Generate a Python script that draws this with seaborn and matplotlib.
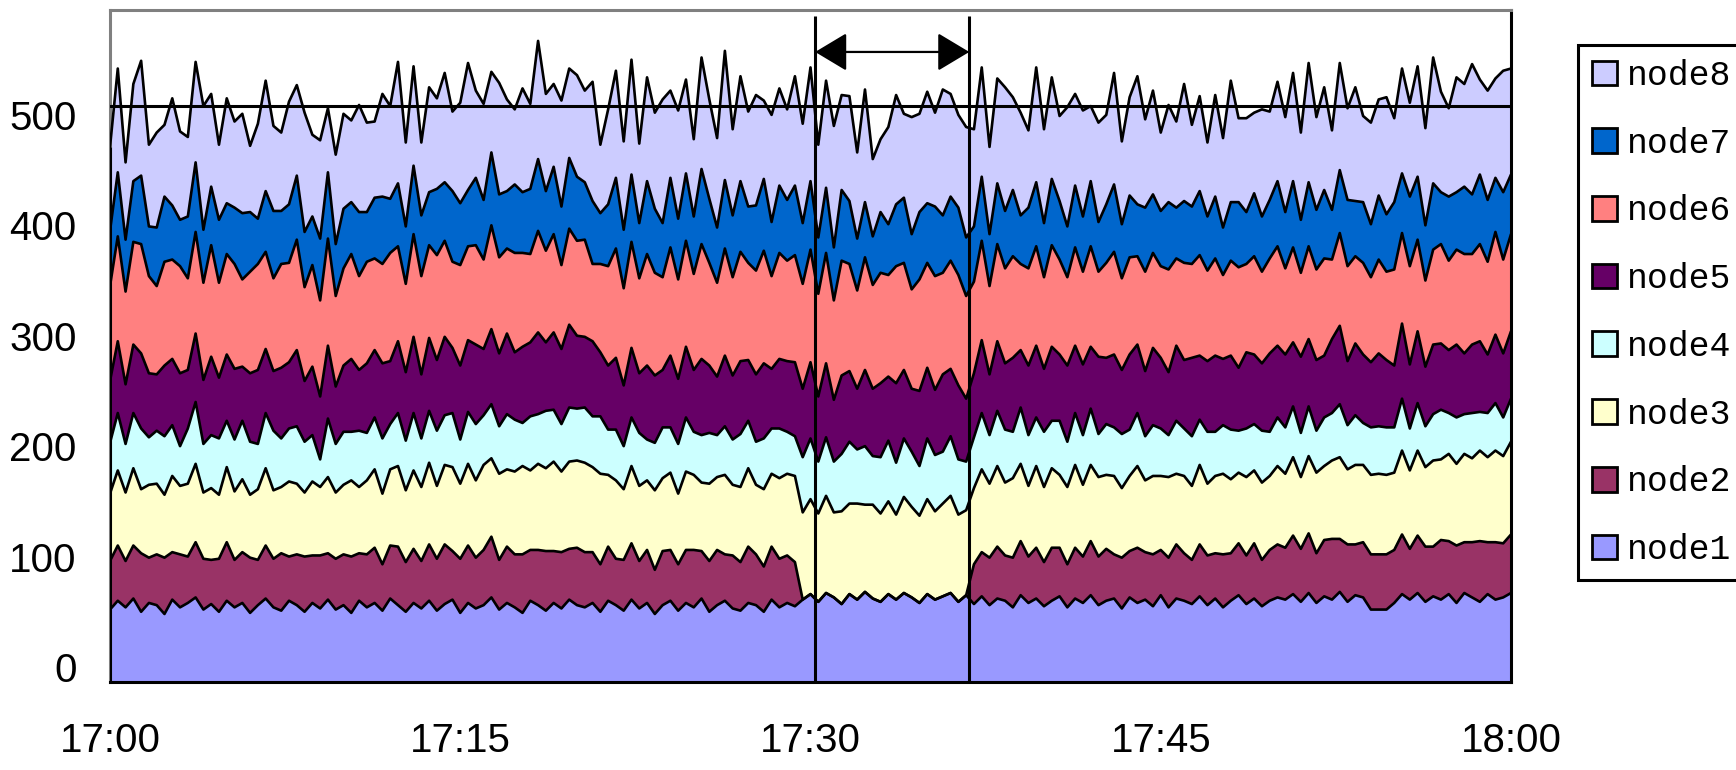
import numpy as np
import pandas as pd
import matplotlib
matplotlib.use("Agg")
import matplotlib.pyplot as plt
from matplotlib.patches import Patch
import seaborn as sns

# one sample every 20 s, 17:00 -> 18:00 (181 samples), stacked bottom to top
node1 = [52, 60, 54, 62, 50, 58, 56, 48, 61, 54, 58, 63, 52, 57, 50, 60, 54, 58, 49, 56, 62, 54, 51, 60, 56, 50, 58, 53, 61, 52,
         56, 49, 60, 54, 58, 51, 62, 56, 50, 58, 53, 60, 51, 57, 61, 49, 58, 53, 56, 63, 52, 58, 54, 49, 60, 56, 51, 58, 53, 61, 56,
         54, 58, 50, 60, 56, 51, 61, 53, 58, 48, 56, 60, 51, 58, 54, 62, 50, 56, 60, 53, 51, 58, 56, 50, 61, 54, 58, 55,
         61, 66, 59, 67, 63, 57, 66, 61, 68, 62, 59, 66, 61, 67, 63, 58, 66, 61, 64, 67, 59, 65,
         57, 64, 56, 62, 60, 54, 65, 58, 62, 55, 60, 64, 54, 62, 58, 65, 56, 60, 62, 53, 63, 58, 61, 55, 65, 54, 62, 60, 57, 64,
         56, 62, 54, 60, 65, 57, 62, 55, 60, 63,
         61, 66, 59, 67, 58, 64, 61, 68, 59, 65, 63, 52, 52, 52, 58, 66, 61, 67, 59, 64, 61, 66, 58, 67, 63, 59, 66, 61, 63, 67]
node2 = [44, 50, 42, 48, 53, 41, 46, 51, 43, 48, 42, 50, 46, 40, 48, 53, 43, 46, 50, 41, 48, 44, 52, 40, 46, 50, 43, 48, 42, 46,
         46, 51, 43, 48, 50, 42, 48, 53, 45, 49, 43, 51, 47, 54, 44, 49, 52, 46, 50, 55, 45, 51, 48, 53, 46, 50, 54, 47, 51, 46, 52,
         50, 46, 43, 49, 42, 46, 51, 43, 48, 40, 49, 46, 42, 48, 52, 43, 46, 50, 42, 48, 44, 51, 46, 41, 48, 44, 43, 40,
         0, 0, 0, 0, 0, 0, 0, 0, 0, 0, 0, 0, 0, 0, 0, 0, 0, 0, 0, 0, 0, 0,
         36, 40, 43, 47, 41, 45, 49, 42, 46, 40, 48, 44, 39, 46, 42, 49, 44, 47, 40, 46, 42, 50, 43, 47, 41, 45, 49, 43, 40, 47,
         45, 41, 48, 43, 47, 44, 50, 42, 46, 48,
         47, 53, 48, 54, 45, 51, 55, 48, 52, 46, 50, 50, 50, 50, 48, 54, 46, 52, 50, 45, 54, 48, 52, 46, 50, 55, 47, 52, 49, 53]
node3 = [61, 68, 62, 70, 58, 66, 64, 57, 69, 62, 66, 71, 60, 65, 58, 68, 62, 66, 57, 64, 70, 62, 60, 68, 64, 58, 67, 62, 69, 60,
         63, 69, 60, 67, 71, 64, 69, 73, 65, 71, 67, 74, 66, 72, 76, 68, 74, 70, 77, 71, 78, 70, 75, 80, 72, 78, 75, 81, 73, 79, 79,
         81, 77, 82, 65, 71, 64, 70, 68, 63, 72, 66, 70, 64, 71, 68, 62, 70, 66, 72, 64, 68, 71, 63, 70, 66, 73, 74, 78,
         79, 86, 80, 88, 77, 84, 82, 87, 79, 85, 80, 84, 77, 87, 82, 79, 86, 80, 84, 88, 79, 77,
         69, 75, 67, 73, 66, 72, 70, 64, 74, 68, 72, 66, 70, 75, 65, 69, 72, 67, 71, 63, 68, 74, 65, 71, 67, 73, 64, 70, 67, 72,
         65, 70, 73, 67, 64, 71, 66, 70, 67, 71,
         67, 71, 65, 70, 73, 67, 71, 74, 68, 72, 70, 72, 73, 72, 70, 76, 71, 77, 72, 78, 73, 79, 74, 80, 76, 82, 77, 83, 79, 84]
node4 = [46, 52, 44, 50, 55, 43, 48, 53, 46, 36, 50, 56, 44, 48, 51, 42, 47, 53, 48, 41, 50, 54, 44, 48, 52, 46, 42, 25, 53, 44,
         48, 44, 51, 43, 47, 50, 41, 48, 45, 52, 44, 47, 50, 45, 49, 40, 47, 51, 45, 49, 43, 50, 47, 39, 49, 45, 52, 47, 43, 49, 47,
         50, 46, 52, 41, 46, 39, 44, 48, 37, 43, 46, 41, 45, 49, 39, 43, 46, 38, 44, 41, 48, 43, 39, 46, 41, 45, 38, 36,
         50, 55, 47, 53, 46, 52, 56, 49, 53, 44, 51, 55, 47, 53, 50, 45, 55, 51, 47, 54, 50, 44,
         46, 51, 44, 50, 48, 42, 51, 46, 44, 50, 43, 49, 41, 47, 45, 51, 39, 46, 44, 49, 42, 48, 40, 46, 43, 38, 48, 43, 45, 41,
         47, 40, 44, 45, 38, 44, 42, 47, 40, 44,
         42, 46, 40, 45, 38, 44, 43, 48, 40, 45, 38, 43, 43, 43, 41, 47, 38, 43, 37, 42, 45, 37, 42, 36, 41, 35, 40, 43, 35, 39]
node5 = [56, 65, 54, 62, 68, 58, 51, 64, 60, 66, 53, 62, 58, 71, 55, 60, 64, 49, 62, 67, 58, 54, 64, 60, 69, 55, 62, 57, 66, 52,
         60, 66, 55, 63, 61, 68, 57, 65, 62, 69, 58, 66, 64, 71, 59, 67, 65, 72, 60, 68, 66, 73, 61, 69, 67, 74, 62, 70, 68, 75, 66,
         64, 68, 58, 58, 65, 55, 63, 54, 67, 61, 52, 65, 59, 64, 56, 69, 61, 53, 64, 58, 66, 55, 61, 68, 54, 63, 64, 67,
         62, 69, 59, 67, 56, 71, 64, 55, 69, 61, 67, 58, 72, 62, 57, 68, 64, 59, 70, 61, 67, 57,
         58, 66, 55, 63, 60, 67, 52, 63, 65, 57, 67, 60, 69, 61, 64, 56, 70, 60, 66, 58, 68, 62, 59, 70, 64, 57, 68, 62, 71, 58,
         64, 69, 60, 67, 57, 69, 63, 61, 71, 65,
         66, 58, 69, 61, 64, 56, 67, 71, 58, 65, 62, 59, 66, 61, 56, 68, 58, 65, 54, 63, 60, 57, 66, 55, 62, 64, 53, 62, 58, 61]
node6 = [86, 95, 84, 93, 99, 88, 80, 94, 90, 97, 83, 92, 88, 101, 86, 91, 95, 79, 92, 96, 88, 84, 94, 90, 100, 85, 92, 87, 97, 82,
         88, 95, 85, 92, 83, 90, 98, 86, 80, 93, 89, 84, 95, 87, 78, 91, 85, 90, 81, 94, 87, 77, 90, 85, 80, 92, 83, 89, 76, 87, 86,
         88, 70, 80, 90, 99, 88, 96, 86, 101, 93, 84, 98, 90, 96, 87, 104, 93, 85, 97, 89, 99, 88, 94, 102, 84, 96, 91, 97,
         95, 102, 93, 100, 90, 104, 97, 89, 102, 94, 100, 92, 106, 97, 90, 101, 95, 103, 92, 98, 100, 93,
         83, 90, 80, 88, 86, 92, 78, 88, 90, 83, 92, 86, 80, 89, 84, 91, 77, 86, 93, 83, 88, 80, 90, 86, 83, 93, 79, 88, 85, 91,
         82, 88, 76, 86, 91, 80, 89, 83, 86, 90,
         78, 86, 76, 84, 82, 88, 72, 84, 86, 79, 83, 77, 85, 80, 87, 82, 89, 83, 78, 86, 90, 81, 86, 90, 82, 88, 84, 93, 85, 88]
node7 = [50, 58, 47, 55, 62, 45, 53, 59, 49, 42, 56, 63, 48, 53, 57, 46, 51, 60, 54, 41, 55, 61, 48, 53, 58, 50, 44, 56, 60, 47,
         54, 47, 58, 45, 55, 61, 49, 57, 52, 62, 55, 48, 60, 53, 64, 56, 51, 61, 54, 66, 57, 52, 62, 55, 59, 65, 54, 61, 53, 64, 58,
         52, 57, 46, 56, 64, 53, 61, 50, 66, 58, 49, 63, 55, 61, 52, 68, 58, 50, 62, 56, 64, 51, 59, 65, 49, 61, 55, 63,
         55, 62, 51, 59, 48, 64, 57, 47, 50, 44, 55, 46, 56, 59, 50, 61, 54, 63, 52, 58, 61, 53,
         50, 58, 47, 55, 52, 60, 44, 55, 58, 49, 60, 53, 46, 56, 50, 59, 45, 53, 61, 49, 56, 47, 58, 53, 50, 61, 46, 56, 52, 58,
         49, 56, 43, 53, 59, 47, 57, 50, 53, 59,
         51, 60, 48, 58, 54, 62, 45, 57, 60, 50, 55, 48, 58, 52, 61, 54, 63, 57, 50, 60, 47, 58, 52, 61, 54, 63, 56, 49, 61, 54]
node8 = [76, 94, 70, 88, 104, 74, 86, 65, 97, 80, 72, 91, 112, 84, 68, 95, 78, 90, 60, 86, 100, 77, 71, 93, 82, 108, 74, 89, 58, 81,
         86, 74, 97, 81, 69, 93, 84, 110, 76, 90, 66, 95, 82, 99, 72, 91, 115, 79, 87, 73, 101, 83, 68, 94, 77, 107, 88, 75, 96, 81, 92,
         83, 108, 62, 86, 97, 80, 104, 72, 94, 87, 112, 79, 98, 85, 70, 101, 90, 81, 117, 78, 95, 86, 100, 71, 97, 88, 82, 99,
         90, 103, 84, 97, 110, 86, 95, 78, 102, 70, 66, 88, 99, 76, 106, 89, 101, 85, 114, 93, 84, 100,
         88, 99, 79, 95, 112, 84, 93, 70, 104, 85, 92, 77, 108, 83, 96, 68, 90, 81, 101, 75, 89, 116, 80, 94, 71, 88, 78, 106, 74, 86,
         67, 92, 81, 110, 76, 85, 73, 97, 80, 90,
         86, 98, 79, 108, 84, 93, 72, 97, 83, 103, 78, 92, 87, 106, 76, 95, 85, 100, 88, 114, 91, 80, 104, 93, 118, 86, 99, 90, 110, 96]

names = ["node1", "node2", "node3", "node4", "node5", "node6", "node7", "node8"]
colors = ["#9999FF", "#993366", "#FFFFCC", "#CCFFFF", "#660066", "#FF8080", "#0066CC", "#CCCCFF"]
tick_minutes = [0, 15, 30, 45, 60]
tick_labels = ["17:00", "17:15", "17:30", "17:45", "18:00"]
y_ticks = [0, 100, 200, 300, 400, 500]
window = [30.2, 36.8]      # marked interval, minutes after 17:00
ref_level = 508            # flat reference line
arrow_level = 557

sns.set_theme(style="white")
plt.rcParams["font.family"] = ["DejaVu Sans"]

df = pd.DataFrame(dict(zip(names, [node1, node2, node3, node4, node5, node6, node7, node8])))
df["minute"] = np.arange(len(df)) / 3
tops = df[names].cumsum(axis=1)

fig = plt.figure(figsize=(17.36, 7.70), dpi=100)
ax = fig.add_axes([110 / 1736, 1 - 682 / 770, 1401 / 1736, 672 / 770])
ymin, ymax = -13.6, 595

lower = np.full(len(df), ymin)
for name, c in zip(names, colors):
    upper = tops[name].to_numpy()
    ax.fill_between(df["minute"], lower, upper, facecolor=c, edgecolor="none", zorder=1)
    lower = upper

for name in names:
    sns.lineplot(x=df["minute"], y=tops[name], color="black", lw=1.9, ax=ax, zorder=3)
ax.vlines([0], ymin, tops[names[-1]].iloc[0], color="black", lw=2.2, zorder=3)

ax.axhline(ref_level, color="black", lw=2.2, zorder=4)
ax.vlines(window, ymin, 590, color="black", lw=2.2, zorder=5)
ax.annotate("", xy=(window[0], arrow_level), xytext=(window[1], arrow_level),
            arrowprops=dict(arrowstyle="<|-|>,head_length=1.0,head_width=0.6", color="black",
                            lw=1.6, shrinkA=0, shrinkB=0, mutation_scale=20), zorder=6)

ax.set_xlim(0, 60)
ax.set_ylim(ymin, ymax)
ax.set_xlabel("")
ax.set_ylabel("")
ax.grid(False)
tick_font = ["Liberation Sans", "DejaVu Sans"]
ax.set_xticks(tick_minutes, tick_labels, fontsize=29, family=tick_font)
ax.set_yticks(y_ticks, [str(v) for v in y_ticks], fontsize=29, family=tick_font)
ax.tick_params(axis="y", length=0, pad=24, labelcolor="black")
ax.tick_params(axis="x", direction="in", length=7, width=2, color="black", pad=29, labelcolor="black")

for side in ["top", "left"]:
    ax.spines[side].set_color("#808080")
    ax.spines[side].set_linewidth(2.2)
for side in ["bottom", "right"]:
    ax.spines[side].set_color("black")
    ax.spines[side].set_linewidth(2.2)

handles = [Patch(facecolor=c, edgecolor="black", linewidth=2, label=n)
           for n, c in reversed(list(zip(names, colors)))]
leg = fig.legend(handles=handles, loc="lower left", bbox_to_anchor=(1578 / 1736, 1 - 580 / 770),
                 bbox_transform=fig.transFigure, frameon=True, fancybox=False, borderaxespad=0,
                 borderpad=0.4, labelspacing=1.0, handlelength=0.72, handleheight=0.72,
                 handletextpad=0.3, prop={"family": "Liberation Mono", "size": 25})
leg.get_frame().set_edgecolor("black")
leg.get_frame().set_linewidth(2.2)
leg.get_frame().set_facecolor("white")
leg.get_frame().set_alpha(1)
for t in leg.get_texts():
    t.set_color("black")

fig.savefig("out.png", dpi=100)
